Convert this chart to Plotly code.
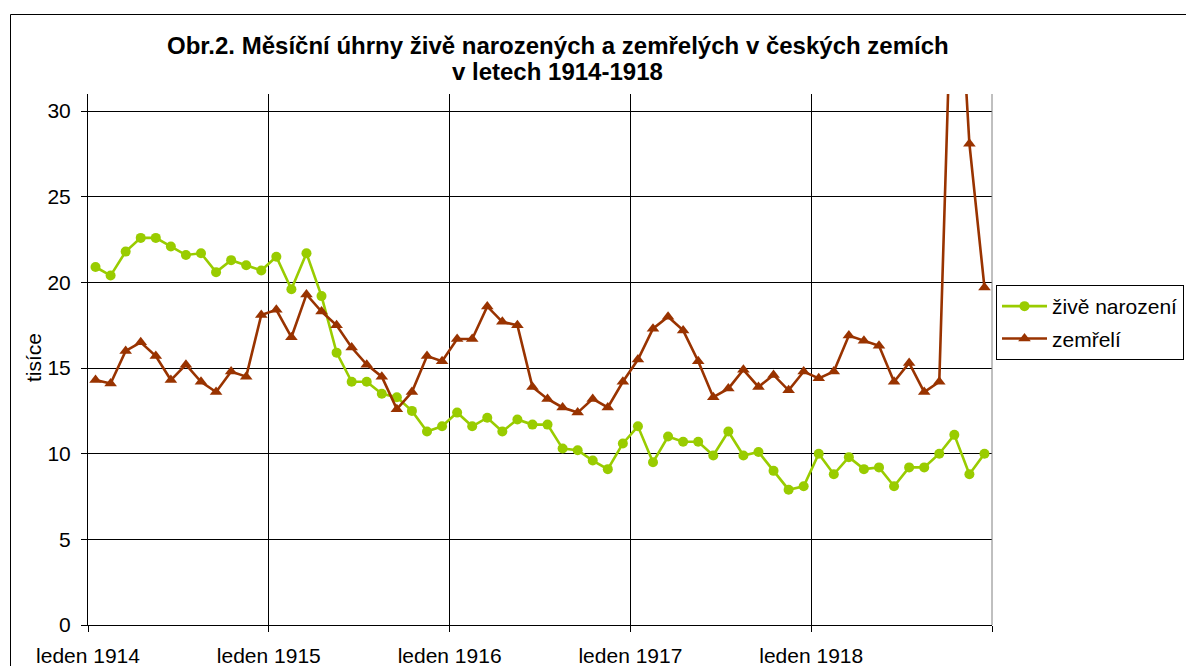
import plotly.graph_objects as go

# ---- data (thousands), monthly Jan 1914 .. Dec 1918 ----
years = [1914, 1915, 1916, 1917, 1918]
months = ["leden", "únor", "březen", "duben", "květen", "červen",
          "červenec", "srpen", "září", "říjen", "listopad", "prosinec"]
categories = [f"{m} {y}" for y in years for m in months]

born = [20.9, 20.4, 21.8, 22.6, 22.6, 22.1, 21.6, 21.7, 20.6, 21.3, 21.0, 20.7,
        21.5, 19.6, 21.7, 19.2, 15.9, 14.2, 14.2, 13.5, 13.3, 12.5, 11.3, 11.6,
        12.4, 11.6, 12.1, 11.3, 12.0, 11.7, 11.7, 10.3, 10.2, 9.6, 9.1, 10.6,
        11.6, 9.5, 11.0, 10.7, 10.7, 9.9, 11.3, 9.9, 10.1, 9.0, 7.9, 8.1,
        10.0, 8.8, 9.8, 9.1, 9.2, 8.1, 9.2, 9.2, 10.0, 11.1, 8.8, 10.0]

died = [14.3, 14.1, 16.0, 16.5, 15.7, 14.3, 15.2, 14.2, 13.6, 14.8, 14.5, 18.1,
        18.4, 16.8, 19.3, 18.3, 17.5, 16.2, 15.2, 14.5, 12.6, 13.6, 15.7, 15.4,
        16.7, 16.7, 18.6, 17.7, 17.5, 13.9, 13.2, 12.7, 12.4, 13.2, 12.7, 14.2,
        15.5, 17.3, 18.0, 17.2, 15.4, 13.3, 13.8, 14.9, 13.9, 14.6, 13.7, 14.8,
        14.4, 14.8, 16.9, 16.6, 16.3, 14.2, 15.3, 13.6, 14.2, 43.0, 28.1, 19.7]

year_tick_labels = ["leden 1914", "leden 1915", "leden 1916", "leden 1917", "leden 1918"]
series_names = ["živě narození", "zemřelí"]
title_lines = ["Obr.2. Měsíční úhrny živě narozených a zemřelých v českých zemích",
               "v letech 1914-1918"]
y_title = "tisíce"

# ---- layout ----
FONT = "Arial, Liberation Sans, sans-serif"
GREEN = "#99CC00"
RED = "#993300"

n = len(categories)
xpos = [i + 0.5 for i in range(n)]          # points centred in each month slot
year_ticks = [12 * k for k in range(len(year_tick_labels))]

fig = go.Figure()
fig.add_trace(go.Scatter(
    x=xpos, y=born, name=series_names[0], mode="lines+markers", legendgroup="a",
    line=dict(color=GREEN, width=2.6),
    marker=dict(symbol="circle", size=10, color=GREEN),
    customdata=categories, hovertemplate="%{customdata}: %{y}<extra></extra>"))
fig.add_trace(go.Scatter(
    x=xpos, y=died, name=series_names[1], mode="lines+markers", legendgroup="b",
    line=dict(color=RED, width=2.6),
    marker=dict(symbol="triangle-up", size=11, color=RED),
    customdata=categories, hovertemplate="%{customdata}: %{y}<extra></extra>"))

L, R, T, B = 88, 194, 94, 41
W, H = 1186, 666
pw, ph = W - L - R, H - T - B

def px(xp):
    return (xp - L) / pw

def py(yp):
    return (H - B - yp) / ph

fig.update_layout(
    width=W, height=H,
    margin=dict(l=L, r=R, t=T, b=B, autoexpand=False),
    paper_bgcolor="white", plot_bgcolor="white",
    font=dict(family=FONT, size=21, color="black"),
    showlegend=True,
    legend=dict(x=px(996), y=py(285), xanchor="left", yanchor="top",
                bordercolor="black", borderwidth=1, bgcolor="white",
                font=dict(size=21), traceorder="grouped", tracegroupgap=2,
                itemwidth=45),
    xaxis=dict(range=[0, n], tickvals=year_ticks, ticktext=year_tick_labels,
               showgrid=True, gridcolor="black", gridwidth=1,
               showline=True, linecolor="black", linewidth=1,
               ticks="outside", ticklen=6, tickcolor="black",
               minor=dict(tick0=0, dtick=12, ticks="outside", ticklen=6,
                          tickcolor="black", showgrid=False),
               zeroline=False, ticklabelstandoff=6,
               tickfont=dict(size=21)),
    yaxis=dict(range=[0, 31], tick0=0, dtick=5,
               showgrid=True, gridcolor="black", gridwidth=1,
               showline=True, linecolor="black", linewidth=1,
               ticks="outside", ticklen=6, tickcolor="black",
               zeroline=False, ticklabelstandoff=6,
               tickfont=dict(size=21)),
    annotations=[
        dict(text=f"<b>{title_lines[0]}</b>", x=px(557.5), y=py(46),
             xref="paper", yref="paper", xanchor="center", yanchor="middle",
             showarrow=False, font=dict(size=24, family=FONT)),
        dict(text=f"<b>{title_lines[1]}</b>", x=px(557.5), y=py(71),
             xref="paper", yref="paper", xanchor="center", yanchor="middle",
             showarrow=False, font=dict(size=24, family=FONT)),
        dict(text=y_title, x=px(33), y=py(358), textangle=-90,
             xref="paper", yref="paper", xanchor="center", yanchor="middle",
             showarrow=False, font=dict(size=21, family=FONT)),
    ],
    shapes=[
        # right edge of the plot area (grey)
        dict(type="line", xref="paper", yref="paper", x0=1, x1=1, y0=0, y1=1,
             line=dict(color="#808080", width=1)),
        # outer chart frame
        dict(type="rect", xref="paper", yref="paper",
             x0=px(10.5), x1=px(1300), y0=py(800), y1=py(14.5),
             line=dict(color="black", width=1), layer="below"),
    ],
)

fig.write_html("out.html",
               config={"displayModeBar": False},
               post_script="document.body.style.margin='0px';"
                           "document.body.style.overflow='hidden';")
